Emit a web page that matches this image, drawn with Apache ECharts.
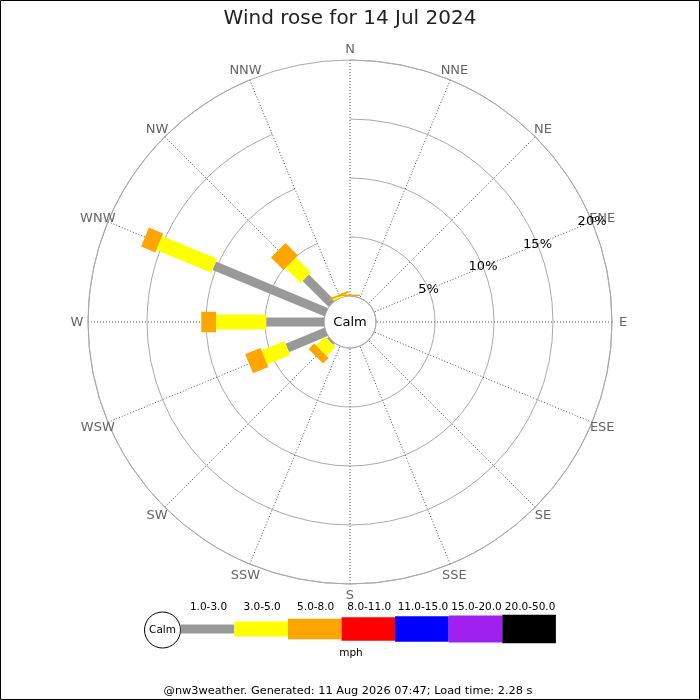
<!DOCTYPE html>
<html>
<head>
<meta charset="utf-8">
<script src="https://cdn.jsdelivr.net/npm/echarts@6/dist/echarts.min.js"></script>
<style>
html,body{margin:0;padding:0;background:#fff;}
#chart{width:700px;height:700px;}
</style>
</head>
<body>
<div id="chart"></div>
<script>
// ---- data ----
const directions = ['N','NNE','NE','ENE','E','ESE','SE','SSE','S','SSW','SW','WSW','W','WNW','NW','NNW'];
const bandLabels = ['1.0-3.0','3.0-5.0','5.0-8.0','8.0-11.0','11.0-15.0','15.0-20.0','20.0-50.0'];
const bandColors = ['#999999','#ffff00','#ffa500','#ff0000','#0000ff','#a020f0','#000000'];
const radiusTicks = [0, 5, 10, 15, 20];
// percent of time per direction, per speed band (mph)
const band1 = [0,0,0,0,0,0,0,0,0,0,0.17,3.55,4.9,10.25,3.1,0];
const band2 = [0,0,0,0,0,0,0,0,0,0,1.06,2.1,4.25,5.05,1.8,0.15];
const band3 = [0.12,0,0,0,0,0,0,0,0,0,0.67,1.4,1.25,1.3,1.5,0.15];
const band4 = [0,0,0,0,0,0,0,0,0,0,0,0,0,0,0,0];
const band5 = [0,0,0,0,0,0,0,0,0,0,0,0,0,0,0,0];
const band6 = [0,0,0,0,0,0,0,0,0,0,0,0,0,0,0,0];
const band7 = [0,0,0,0,0,0,0,0,0,0,0,0,0,0,0,0];
const bandValues = [band1, band2, band3, band4, band5, band6, band7];

// ---- style ----
const bandWidths = [9, 15, 20.5, 23.5, 25.7, 27, 28.7];
const FONT = 'DejaVu Sans';
const rMax = 20;

const chart = echarts.init(document.getElementById('chart'), null, {renderer: 'canvas'});

function dirVec(api, dir) {
  const a = api.coord([0, dir]);
  const b = api.coord([rMax, dir]);
  let ux = b[0] - a[0], uy = b[1] - a[1];
  const L = Math.hypot(ux, uy) || 1;
  return [ux / L, uy / L];
}

function renderSegment(params, api) {
  const r0 = api.value(0), dir = api.value(1), r1 = api.value(2), band = api.value(3);
  const u = dirVec(api, dir);
  const p0 = api.coord([r0, dir]);
  const p1 = api.coord([r1, dir]);
  const h = bandWidths[band] / 2;
  const nx = -u[1] * h, ny = u[0] * h;
  return {
    type: 'polygon',
    shape: {points: [[p0[0] + nx, p0[1] + ny], [p1[0] + nx, p1[1] + ny], [p1[0] - nx, p1[1] - ny], [p0[0] - nx, p0[1] - ny]]},
    style: {fill: bandColors[band]}
  };
}

function renderDirLabel(params, api) {
  const dir = api.value(1);
  const u = dirVec(api, dir);
  const p = api.coord([rMax, dir]);
  return {
    type: 'text',
    x: p[0] + u[0] * 11,
    y: p[1] + u[1] * 11 + 1,
    style: {text: directions[dir], align: 'center', verticalAlign: 'middle', fill: '#666666', font: '13px ' + FONT}
  };
}

// build stacked segments
const series = [];
bandValues.forEach((vals, b) => {
  const data = [];
  vals.forEach((v, d) => {
    if (v > 0) {
      let start = 0;
      for (let k = 0; k < b; k++) start += bandValues[k][d];
      data.push([start, d, start + v, b]);
    }
  });
  series.push({
    type: 'custom', name: bandLabels[b], coordinateSystem: 'polar', polarIndex: 0,
    renderItem: renderSegment, data: data, silent: true, z: 3
  });
});
series.push({
  type: 'custom', coordinateSystem: 'polar', polarIndex: 0,
  renderItem: renderDirLabel, data: directions.map((n, i) => [rMax, i]), silent: true, z: 4
});

// legend graphics (built from band arrays)
const graphics = [];
const legX0 = 180.7, legW = 53.6, legY = 629;
graphics.push({type: 'circle', shape: {cx: 162.5, cy: 630, r: 18}, style: {fill: '#fff', stroke: '#000', lineWidth: 1}, z: 10});
graphics.push({type: 'text', x: 162.5, y: 630, style: {text: 'Calm', align: 'center', verticalAlign: 'middle', fill: '#000', font: '10.5px ' + FONT}, z: 11});
bandLabels.forEach((lab, b) => {
  const x = legX0 + b * legW;
  const h = bandWidths[b];
  graphics.push({type: 'rect', shape: {x: x, y: legY - h / 2, width: legW, height: h}, style: {fill: bandColors[b]}, z: 10});
  graphics.push({type: 'text', x: x + legW / 2 + 1, y: 607, style: {text: lab, align: 'center', verticalAlign: 'middle', fill: '#000', font: '10.5px ' + FONT}, z: 10});
});
graphics.push({type: 'text', x: 351, y: 653, style: {text: 'mph', align: 'center', verticalAlign: 'middle', fill: '#000', font: '10.5px ' + FONT}});
graphics.push({type: 'text', x: 348, y: 691, style: {text: '@nw3weather. Generated: 11 Aug 2026 07:47; Load time: 2.28 s', align: 'center', verticalAlign: 'middle', fill: '#000', font: '11.3px ' + FONT}});
graphics.push({type: 'text', x: 350, y: 323, style: {text: 'Calm', align: 'center', verticalAlign: 'middle', fill: '#000', font: '13px ' + FONT}, z: 20});
graphics.push({type: 'rect', shape: {x: 0.5, y: 0.5, width: 699, height: 699}, style: {fill: 'none', stroke: '#000', lineWidth: 1}, z: 30});

const option = {
  backgroundColor: '#ffffff',
  animation: false,
  title: {
    text: 'Wind rose for 14 Jul 2024', left: 'center', top: 4,
    textStyle: {fontFamily: FONT, fontSize: 20, fontWeight: 'normal', color: '#222'}
  },
  polar: [
    {center: [350, 322], radius: [26, 262]},
    {center: [350, 322], radius: [26, 262]}
  ],
  angleAxis: [
    {
      polarIndex: 0, type: 'category', data: directions, startAngle: 90, clockwise: true, boundaryGap: false,
      axisLine: {show: true, lineStyle: {color: '#aaaaaa', width: 1}},
      axisTick: {show: false},
      axisLabel: {show: false},
      splitLine: {show: true, lineStyle: {color: '#555555', type: [1, 2], width: 1}}
    },
    {polarIndex: 1, type: 'value', min: 0, max: 360, startAngle: 22.5, show: false}
  ],
  radiusAxis: [
    {
      polarIndex: 0, type: 'value', min: radiusTicks[0], max: radiusTicks[radiusTicks.length - 1], interval: 5,
      axisLine: {show: false}, axisTick: {show: false}, axisLabel: {show: false},
      splitLine: {show: true, lineStyle: {color: '#aaaaaa', width: 1}}
    },
    {
      polarIndex: 1, type: 'value', min: radiusTicks[0], max: radiusTicks[radiusTicks.length - 1], interval: 5,
      axisLine: {show: false}, axisTick: {show: false}, splitLine: {show: false},
      axisLabel: {
        show: true, margin: 0, align: 'center', verticalAlign: 'middle', color: '#000', fontFamily: FONT, fontSize: 13,
        formatter: v => (v === 0 ? '' : v + '%')
      },
      z: 5
    }
  ],
  series: series,
  graphic: graphics
};
chart.setOption(option);
</script>
</body>
</html>
